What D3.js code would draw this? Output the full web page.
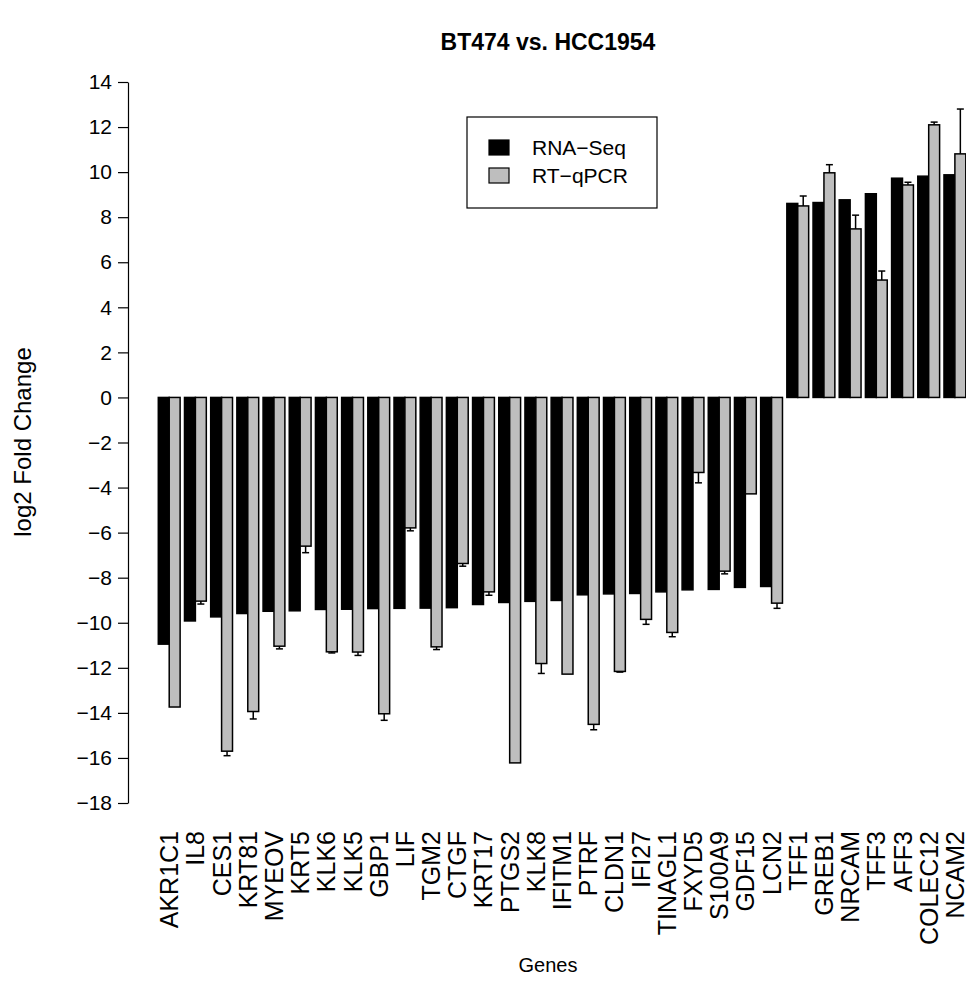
<!DOCTYPE html>
<html>
<head>
<meta charset="utf-8">
<script src="https://cdn.jsdelivr.net/npm/d3@7"></script>
<style>
  html, body { margin: 0; padding: 0; background: #fff; }
  svg { display: block; font-family: "Liberation Sans", Arial, Helvetica, sans-serif; }
</style>
</head>
<body>
<svg id="chart" width="966" height="985"></svg>
<script>
// Genes ordered by RNA-Seq fold change
const genes = ["AKR1C1","IL8","CES1","KRT81","MYEOV","KRT5","KLK6","KLK5","GBP1","LIF",
  "TGM2","CTGF","KRT17","PTGS2","KLK8","IFITM1","PTRF","CLDN1","IFI27","TINAGL1",
  "FXYD5","S100A9","GDF15","LCN2","TFF1","GREB1","NRCAM","TFF3","AFF3","COLEC12","NCAM2"];

const seriesNames = ["RNA\u2212Seq", "RT\u2212qPCR"];

// log2 fold change, RNA-Seq
const rnaSeq = [-10.95, -9.92, -9.74, -9.59, -9.49, -9.47, -9.41, -9.40, -9.37, -9.36,
  -9.35, -9.33, -9.19, -9.10, -9.05, -9.01, -8.76, -8.72, -8.70, -8.63,
  -8.54, -8.52, -8.43, -8.39, 8.61, 8.65, 8.77, 9.04, 9.73, 9.82, 9.88];

// log2 fold change, RT-qPCR
const rtqPCR = [-13.74, -9.04, -15.70, -13.94, -11.04, -6.60, -11.29, -11.30, -14.04, -5.79,
  -11.07, -7.37, -8.63, -16.22, -11.81, -12.28, -14.51, -12.16, -9.85, -10.43,
  -3.33, -7.71, -4.28, -9.13, 8.50, 9.97, 7.48, 5.21, 9.43, 12.10, 10.81];

// RT-qPCR standard deviation
const rtqPCRsd = [0, 0.13, 0.20, 0.33, 0.12, 0.29, 0.05, 0.15, 0.29, 0.13,
  0.12, 0.12, 0.15, 0, 0.44, 0, 0.24, 0.03, 0.22, 0.19,
  0.46, 0.12, 0, 0.23, 0.44, 0.36, 0.61, 0.40, 0.12, 0.12, 1.99];

const yTicks = [14, 12, 10, 8, 6, 4, 2, 0, -2, -4, -6, -8, -10, -12, -14, -16, -18];

const seriesFill = ["#000000", "#bebebe"];

const svg = d3.select("#chart");

const plotLeft = 128;
const plotTop = 82, plotBottom = 803;

const y = d3.scaleLinear().domain([-18, 14]).range([plotBottom, plotTop]);

const x = d3.scaleBand()
  .domain(genes)
  .range([158.3, 965.8])
  .paddingInner(0.4 / 2.4)
  .paddingOuter(0);

const xs = d3.scaleBand()
  .domain(seriesNames)
  .range([0, x.bandwidth()]);

const rows = genes.map((g, i) => ({
  gene: g,
  vals: [
    { s: seriesNames[0], v: rnaSeq[i], sd: null },
    { s: seriesNames[1], v: rtqPCR[i], sd: rtqPCRsd[i] }
  ]
}));

// bars
const groups = svg.append("g").selectAll("g.grp")
  .data(rows)
  .join("g")
  .attr("class", "grp")
  .attr("transform", d => `translate(${x(d.gene)},0)`);

groups.selectAll("rect")
  .data(d => d.vals)
  .join("rect")
  .attr("x", d => xs(d.s))
  .attr("width", xs.bandwidth())
  .attr("y", d => y(Math.max(0, d.v)))
  .attr("height", d => Math.abs(y(d.v) - y(0)))
  .attr("fill", (d, i) => seriesFill[i])
  .attr("stroke", "#000")
  .attr("stroke-width", 1.5);

// one-sided error bars on RT-qPCR
const capHalf = 3.5;
const errs = groups.selectAll("g.err")
  .data(d => d.vals.filter(v => v.sd))
  .join("g")
  .attr("class", "err")
  .attr("stroke", "#000")
  .attr("stroke-width", 1.5);
errs.each(function(d) {
  const g = d3.select(this);
  const cx = xs(d.s) + xs.bandwidth() / 2;
  const end = d.v + Math.sign(d.v) * d.sd;
  g.append("line").attr("x1", cx).attr("x2", cx).attr("y1", y(d.v)).attr("y2", y(end));
  g.append("line").attr("x1", cx - capHalf).attr("x2", cx + capHalf).attr("y1", y(end)).attr("y2", y(end));
});

// y axis
const yAxis = d3.axisLeft(y)
  .tickValues(yTicks)
  .tickSize(10)
  .tickSizeOuter(0)
  .tickPadding(6);
const ya = svg.append("g")
  .attr("transform", `translate(${plotLeft},0)`)
  .call(yAxis);
ya.select(".domain").attr("stroke", "#000").attr("stroke-width", 1.2);
ya.selectAll(".tick line").attr("stroke", "#000").attr("stroke-width", 1.2);
ya.selectAll(".tick text")
  .attr("font-size", 21)
  .attr("font-family", "Liberation Sans, Arial, sans-serif")
  .attr("fill", "#000");

// gene labels (perpendicular)
svg.append("g").selectAll("text")
  .data(genes)
  .join("text")
  .attr("transform", d => `translate(${x(d) + x.bandwidth() / 2},831) rotate(-90)`)
  .attr("text-anchor", "end")
  .attr("dy", "0.36em")
  .attr("font-size", 25)
  .text(d => d);

// titles
svg.append("text")
  .attr("x", 548).attr("y", 50)
  .attr("text-anchor", "middle")
  .attr("font-weight", "bold")
  .attr("font-size", 23)
  .text("BT474 vs. HCC1954");

svg.append("text")
  .attr("x", 548).attr("y", 972)
  .attr("text-anchor", "middle")
  .attr("font-size", 20)
  .text("Genes");

svg.append("text")
  .attr("transform", `translate(31,442) rotate(-90)`)
  .attr("text-anchor", "middle")
  .attr("font-size", 24)
  .text("log2 Fold Change");

// legend
const lg = svg.append("g");
lg.append("rect")
  .attr("x", 467).attr("y", 117).attr("width", 190).attr("height", 91)
  .attr("fill", "#fff").attr("stroke", "#000").attr("stroke-width", 1.2);
seriesNames.forEach((s, i) => {
  const yy = 140 + i * 28;
  lg.append("rect")
    .attr("x", 489).attr("y", yy).attr("width", 20).attr("height", 15)
    .attr("fill", seriesFill[i]).attr("stroke", "#000").attr("stroke-width", 1.2);
  lg.append("text")
    .attr("x", 532).attr("y", yy + 15)
    .attr("font-size", 21)
    .text(s);
});
</script>
</body>
</html>
